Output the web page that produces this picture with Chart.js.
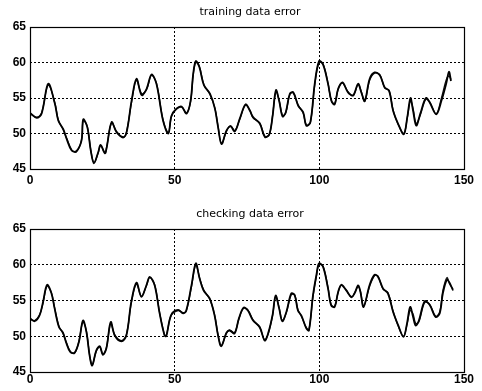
<!DOCTYPE html>
<html>
<head>
<meta charset="utf-8">
<script src="https://cdn.jsdelivr.net/npm/chart.js@4.4.0/dist/chart.umd.min.js"></script>
<style>
  body{margin:0;background:#fff;}
  .box{position:absolute;left:0;width:482px;}
</style>
</head>
<body>
<div class="box" style="top:0;height:195px;"><canvas id="trainChart"></canvas></div>
<div class="box" style="top:195px;height:196px;"><canvas id="checkChart"></canvas></div>
<script>
'use strict';
// titles and ticks
let titles=['training data error','checking data error'];
let xTicks=[0,50,100,150];
let yTicks=[45,50,55,60,65];

// training data error (two curves almost on top of each other)
let trainX=[0,2.3,4,6.3,8.6,9.8,11.5,12.7,14.4,16,17.8,18.4,19.8,21,22.1,23.6,24.4,25.9,26.5,28.2,29.9,32.2,33.4,35.1,36.8,38.6,40.3,42,43.7,46,47.8,48.9,50.6,52.4,54.1,55.5,56.4,57.3,58.5,60.1,62.2,63.9,65,66.2,67.9,69.3,70.8,72.5,74.5,76,77.1,79.4,81.2,82.7,83.8,85,86.1,87.3,88.4,89.8,91,92.7,94.4,95.5,96.9,98.4,99.9,101.3,103,104.2,105.3,106.5,108,109.9,111.7,113.4,114.5,115.7,117.4,119.1,120.9,122.6,124.1,125.5,127.2,129.2,130.4,131.5,132.4,133.5,134.9,136.8,138.1,140.4,142.2,143.9,144.8,145.5];
let trainTarget=[52.9,52.2,52.8,57,54.2,51.8,50.6,49.2,47.6,47.5,49,52,50.9,47.6,45.8,47.4,48.4,47.2,48,51.6,50.2,49.5,50.2,54.6,57.7,55.4,56.3,58.3,57,51.8,50,52.5,53.5,53.8,52.8,54.6,58.4,60.2,59.4,56.8,55.6,53.5,50.9,48.5,50.4,51,50.3,52.1,54.1,53.2,52.3,51.4,49.5,49.9,52.3,56.1,54.6,52.4,53,55.6,55.8,53.9,53,51.1,51.6,57,60.2,59.7,57,54.6,54.1,56.3,57.2,55.8,55.4,57,55.8,54.6,57.7,58.6,58.2,56.5,56,53.2,51.4,49.9,52.3,55,53.2,51.1,52.8,55,54.4,52.7,54.6,57.1,58.7,57.4];
let trainOutput=[52.8,52.3,52.9,56.8,54.3,51.9,50.5,49.3,47.7,47.4,49.1,51.8,51,47.7,45.9,47.3,48.3,47.3,48.1,51.5,50.3,49.4,50.3,54.4,57.5,55.6,56.2,58.2,57.1,51.9,50.1,52.4,53.4,53.7,52.9,54.5,58.2,60,59.5,56.9,55.5,53.6,51,48.6,50.3,51.1,50.4,52,54,53.3,52.2,51.5,49.6,49.8,52.4,55.9,54.7,52.5,52.9,55.5,55.7,54,52.9,51.2,51.5,56.8,60,59.8,57.1,54.5,54.2,56.2,57.1,55.9,55.3,56.9,55.9,54.5,57.5,58.5,58.3,56.4,56.1,53.3,51.3,50,52.2,54.6,53.5,51.4,52.6,54.8,54.5,52.8,55,57.6,58.1,57.6];

// checking data error
let checkX=[0,1.6,3.3,4.5,5.9,7.4,8.5,10,11.4,12.6,13.9,15.4,16.9,18.3,19.5,20.6,21.5,22.9,24.1,25.2,26.4,27.9,29.3,31.6,33.3,35,36.8,38.5,40.2,41.4,43.1,44.8,46.5,47.1,48.8,51.2,52.9,54,55.8,57.3,58.6,60,62.1,63.8,65,66.1,67.9,69,70.7,72.2,73.8,75.3,77.1,79.4,81.1,82.3,83.8,84.9,86.1,87.2,88.6,90.3,91.5,92.6,93.8,95.5,96.4,97.8,99,99.9,101.3,103,104.1,105.3,106.5,107.6,109.3,111.1,112.2,113.4,114.2,115.3,117.4,119.1,120.3,122,123.7,125.5,127.2,129.1,130.3,131.4,132.4,133.3,134.4,136.4,138.1,140.2,141.6,142.7,144.1,145,146.2];
let checkTarget=[52.5,52.1,52.9,54.8,57.2,56,53.9,51.3,50.5,49,47.8,47.7,49.2,52.2,50.6,47.3,45.9,48,48.6,47.4,48.3,52,50.1,49.3,50.1,54.8,57.5,55.5,57.1,58.3,57.1,53.2,50.1,50,53,53.7,53.2,53.6,57.1,60.2,58.1,56.4,55.3,52.9,50.1,48.6,50.5,50.8,50.4,52.5,54,53.6,52.2,51.3,49.4,50.4,52.9,55.7,53.9,52.1,53.4,56,55.7,53.6,52.9,51.1,50.8,55.7,58.6,60.2,59.7,56.7,54.3,54.1,56.2,57.2,56.4,55.5,56,57.1,56.2,54.1,57.2,58.6,58.3,56.7,56,53.4,51.6,49.9,51.8,54.1,52.7,51.5,52.2,54.9,54.4,52.7,53.2,56,57.9,57.5,56.4];
let checkOutput=[52.4,52.2,53,54.6,57,56.1,54,51.4,50.4,49.1,47.9,47.6,49.3,52,50.7,47.4,46,47.9,48.5,47.5,48.4,51.8,50.2,49.4,50.2,54.6,57.3,55.6,57,58.2,57.2,53.3,50.2,50.1,52.9,53.6,53.3,53.5,56.9,60,58.2,56.5,55.2,53,50.2,48.7,50.4,50.9,50.5,52.4,53.9,53.7,52.3,51.2,49.5,50.3,52.8,55.5,54,52.2,53.3,55.8,55.8,53.7,52.8,51.2,50.9,55.5,58.4,60,59.8,56.8,54.4,54.2,56.1,57.1,56.5,55.4,56.1,56.9,56.3,54.2,57,58.5,58.4,56.6,56.1,53.5,51.5,50,51.6,53.6,53.1,51.8,52,54.7,54.5,52.8,53.4,56.4,58.2,57.3,56.6];

function toPoints(xs, ys){
  let pts=[];
  for(let i=0;i<xs.length;i++){
    pts.push({x:xs[i], y:ys[i]});
  }
  return pts;
}

// draws the title above the box and the solid frame
let framePlugin={
  id:'frame',
  afterDraw(chart){
    let ctx=chart.ctx;
    let a=chart.chartArea;
    ctx.save();
    ctx.strokeStyle='#000';
    ctx.lineWidth=1.2;
    ctx.strokeRect(a.left+0.5, a.top+0.5, a.right-a.left, a.bottom-a.top);
    ctx.fillStyle='#000';
    ctx.font='11px "DejaVu Sans", sans-serif';
    ctx.textAlign='center';
    ctx.textBaseline='middle';
    ctx.fillText(chart.options.plugins.frame.text, (a.left+a.right)/2+3, a.top-15);
    ctx.restore();
  }
};

function gridColor(ctx){
  let v=ctx.tick ? ctx.tick.value : null;
  if(v===45 || v===65 || v===0 || v===150) return 'rgba(0,0,0,0)';
  return '#000';
}

let tickFont={family:'"Liberation Sans", Arial, sans-serif', size:12, weight:'bold'};

function makeChart(canvasId, title, xs, target, output, topPad, xAxisHeight, xPad){
  let el=document.getElementById(canvasId).getContext('2d');
  return new Chart(el, {
    type:'line',
    data:{
      datasets:[{
        data:toPoints(xs, target),
        borderColor:'#000',
        borderWidth:1.8,
        pointRadius:0,
        tension:0.35
      },{
        data:toPoints(xs, output),
        borderColor:'#111',
        borderWidth:1.3,
        pointRadius:0,
        tension:0.35
      }]
    },
    options:{
      responsive:true,
      maintainAspectRatio:false,
      animation:false,
      layout:{padding:{top:topPad, right:18, left:0, bottom:0}},
      plugins:{legend:{display:false}, tooltip:{enabled:false}, frame:{text:title}},
      scales:{
        x:{
          type:'linear',
          min:xTicks[0], max:xTicks[xTicks.length-1],
          afterBuildTicks(scale){ scale.ticks=xTicks.map(v=>({value:v})); },
          afterFit(scale){ scale.height=xAxisHeight; },
          grid:{color:gridColor, lineWidth:1, drawTicks:false},
          border:{display:false, dash:[2,2]},
          ticks:{color:'#000', padding:xPad, maxRotation:0, font:tickFont}
        },
        y:{
          min:yTicks[0], max:yTicks[yTicks.length-1],
          afterBuildTicks(scale){ scale.ticks=yTicks.map(v=>({value:v})); },
          afterFit(scale){ scale.width=30; },
          grid:{color:gridColor, lineWidth:1, drawTicks:false},
          border:{display:false, dash:[2,2]},
          ticks:{color:'#000', padding:4, font:tickFont}
        }
      }
    },
    plugins:[framePlugin]
  });
}

makeChart('trainChart', titles[0], trainX, trainTarget, trainOutput, 27, 26, 4);
makeChart('checkChart', titles[1], checkX, checkTarget, checkOutput, 34, 19, 0);
</script>
</body>
</html>
